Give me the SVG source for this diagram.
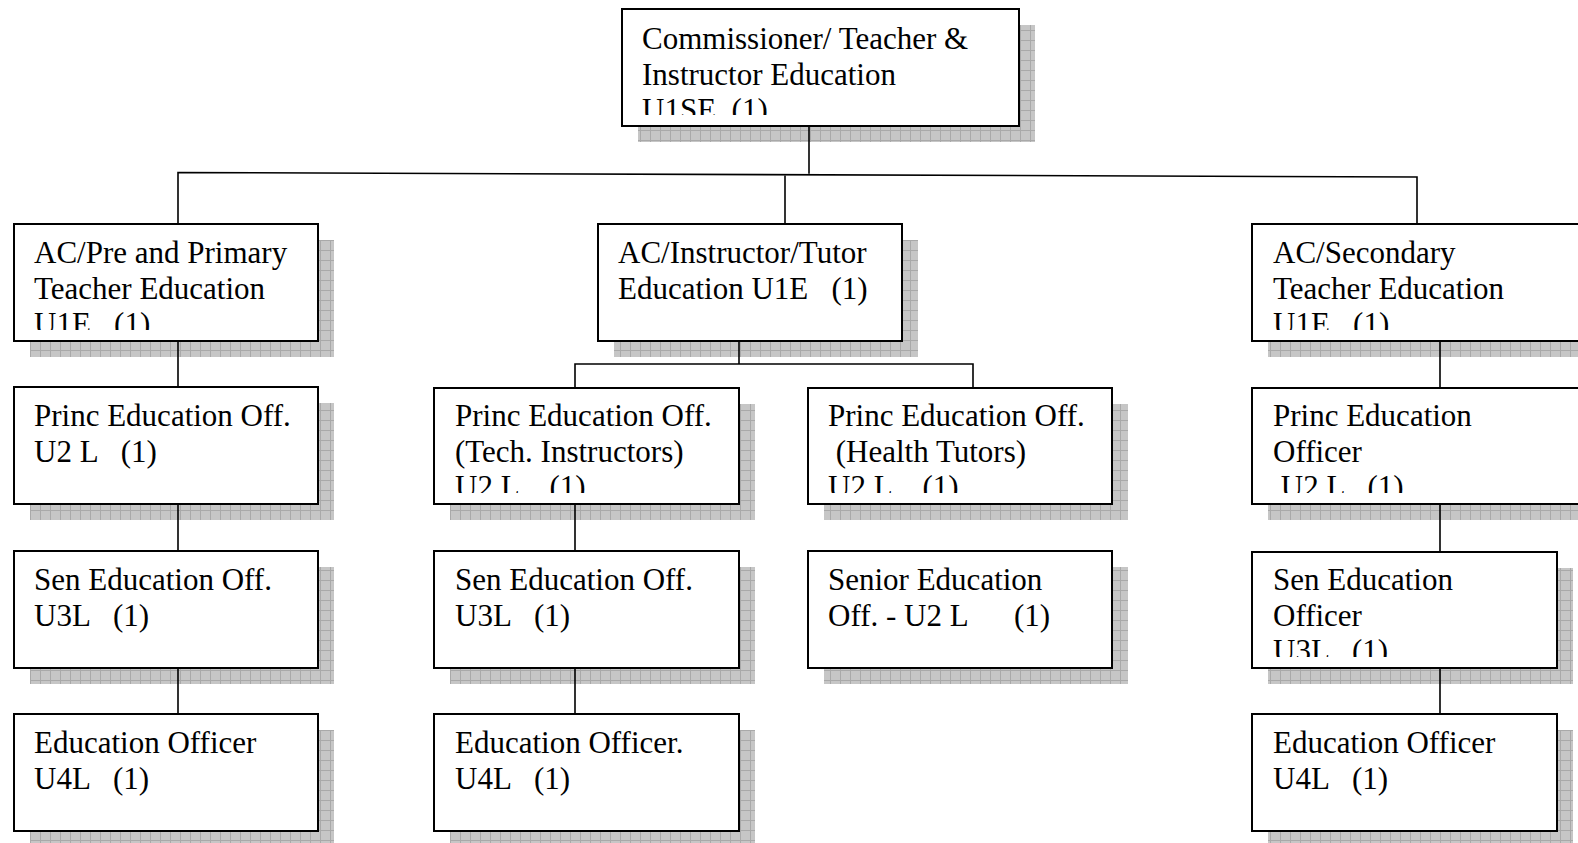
<svg xmlns="http://www.w3.org/2000/svg" width="1578" height="843" viewBox="0 0 1578 843">
<style>
.box{fill:#fff;stroke:#000;stroke-width:2}
.sh{fill:url(#grid)}
.t{font-family:"Liberation Serif","Times New Roman",serif;font-size:31px;fill:#000;white-space:pre}
.c{stroke:#000;stroke-width:1.6;fill:none}
</style>
<defs>
<pattern id="grid" patternUnits="userSpaceOnUse" width="10" height="10">
<rect width="10" height="10" fill="#c6c6c6"/>
<path d="M0 0.5H10M0.5 0V10" stroke="#a9a9a9" stroke-width="1"/>
</pattern>
<clipPath id="cTop"><rect x="622" y="9" width="397" height="106"/></clipPath>
<clipPath id="cL1"><rect x="14" y="224" width="304" height="106"/></clipPath>
<clipPath id="cM2a"><rect x="434" y="388" width="305" height="105"/></clipPath>
<clipPath id="cM2b"><rect x="808" y="388" width="304" height="105"/></clipPath>
<clipPath id="cR1"><rect x="1252" y="224" width="340" height="106"/></clipPath>
<clipPath id="cR2"><rect x="1252" y="388" width="340" height="105"/></clipPath>
<clipPath id="cR3"><rect x="1252" y="552" width="305" height="105"/></clipPath>
</defs>
<rect width="1578" height="843" fill="#fff"/>

<g id="node-top">
<rect class="sh" x="638" y="25" width="397" height="117"/>
<rect class="box" x="622" y="9" width="397" height="117"/>
<text class="t" clip-path="url(#cTop)"><tspan x="642" y="49">Commissioner/ Teacher &amp;</tspan><tspan x="642" y="84.5">Instructor Education</tspan><tspan x="642" y="120">U1SE  (1)</tspan></text>
</g>

<g id="node-L1">
<rect class="sh" x="30" y="240" width="304" height="117"/>
<rect class="box" x="14" y="224" width="304" height="117"/>
<text class="t" clip-path="url(#cL1)"><tspan x="34" y="263">AC/Pre and Primary</tspan><tspan x="34" y="298.5">Teacher Education</tspan><tspan x="34" y="334">U1E   (1)</tspan></text>
</g>
<g id="node-L2">
<rect class="sh" x="30" y="403" width="304" height="117"/>
<rect class="box" x="14" y="387" width="304" height="117"/>
<text class="t"><tspan x="34" y="426">Princ Education Off.</tspan><tspan x="34" y="461.5">U2 L   (1)</tspan></text>
</g>
<g id="node-L3">
<rect class="sh" x="30" y="567" width="304" height="117"/>
<rect class="box" x="14" y="551" width="304" height="117"/>
<text class="t"><tspan x="34" y="590">Sen Education Off.</tspan><tspan x="34" y="625.5">U3L   (1)</tspan></text>
</g>
<g id="node-L4">
<rect class="sh" x="30" y="730" width="304" height="117"/>
<rect class="box" x="14" y="714" width="304" height="117"/>
<text class="t"><tspan x="34" y="753">Education Officer</tspan><tspan x="34" y="788.5">U4L   (1)</tspan></text>
</g>

<g id="node-M1">
<rect class="sh" x="614" y="240" width="304" height="117"/>
<rect class="box" x="598" y="224" width="304" height="117"/>
<text class="t"><tspan x="618" y="263">AC/Instructor/Tutor</tspan><tspan x="618" y="298.5">Education U1E   (1)</tspan></text>
</g>
<g id="node-M2a">
<rect class="sh" x="450" y="404" width="305" height="116"/>
<rect class="box" x="434" y="388" width="305" height="116"/>
<text class="t" clip-path="url(#cM2a)"><tspan x="455" y="426">Princ Education Off.</tspan><tspan x="455" y="461.5">(Tech. Instructors)</tspan><tspan x="455" y="497">U2 L    (1)</tspan></text>
</g>
<g id="node-M2b">
<rect class="sh" x="824" y="404" width="304" height="116"/>
<rect class="box" x="808" y="388" width="304" height="116"/>
<text class="t" clip-path="url(#cM2b)"><tspan x="828" y="426">Princ Education Off.</tspan><tspan x="828" y="461.5"> (Health Tutors)</tspan><tspan x="828" y="497">U2 L    (1)</tspan></text>
</g>
<g id="node-M3a">
<rect class="sh" x="450" y="567" width="305" height="117"/>
<rect class="box" x="434" y="551" width="305" height="117"/>
<text class="t"><tspan x="455" y="590">Sen Education Off.</tspan><tspan x="455" y="625.5">U3L   (1)</tspan></text>
</g>
<g id="node-M3b">
<rect class="sh" x="824" y="567" width="304" height="117"/>
<rect class="box" x="808" y="551" width="304" height="117"/>
<text class="t"><tspan x="828" y="590">Senior Education</tspan><tspan x="828" y="625.5">Off. - U2 L      (1)</tspan></text>
</g>
<g id="node-M4a">
<rect class="sh" x="450" y="730" width="305" height="117"/>
<rect class="box" x="434" y="714" width="305" height="117"/>
<text class="t"><tspan x="455" y="753">Education Officer.</tspan><tspan x="455" y="788.5">U4L   (1)</tspan></text>
</g>

<g id="node-R1">
<rect class="sh" x="1268" y="240" width="340" height="117"/>
<rect class="box" x="1252" y="224" width="340" height="117"/>
<text class="t" clip-path="url(#cR1)"><tspan x="1273" y="263">AC/Secondary</tspan><tspan x="1273" y="298.5">Teacher Education</tspan><tspan x="1273" y="334">U1E   (1)</tspan></text>
</g>
<g id="node-R2">
<rect class="sh" x="1268" y="404" width="340" height="116"/>
<rect class="box" x="1252" y="388" width="340" height="116"/>
<text class="t" clip-path="url(#cR2)"><tspan x="1273" y="426">Princ Education</tspan><tspan x="1273" y="461.5">Officer</tspan><tspan x="1273" y="497"> U2 L   (1)</tspan></text>
</g>
<g id="node-R3">
<rect class="sh" x="1268" y="568" width="305" height="116"/>
<rect class="box" x="1252" y="552" width="305" height="116"/>
<text class="t" clip-path="url(#cR3)"><tspan x="1273" y="590">Sen Education</tspan><tspan x="1273" y="625.5">Officer</tspan><tspan x="1273" y="661">U3L   (1)</tspan></text>
</g>
<g id="node-R4">
<rect class="sh" x="1268" y="730" width="305" height="117"/>
<rect class="box" x="1252" y="714" width="305" height="117"/>
<text class="t"><tspan x="1273" y="753">Education Officer</tspan><tspan x="1273" y="788.5">U4L   (1)</tspan></text>
</g>

<g id="connectors">
<path class="c" d="M809 126V173.7"/>
<path class="c" d="M178 224V172.5L1417 177V224"/>
<path class="c" d="M785 175.5V224"/>
<path class="c" d="M178 341V387M178 504V551M178 668V714"/>
<path class="c" d="M739 341V364M575 388V364H973V388"/>
<path class="c" d="M575 504V551M575 668V714"/>
<path class="c" d="M1440 341V388M1440 504V552M1440 668V714"/>
</g>
</svg>
